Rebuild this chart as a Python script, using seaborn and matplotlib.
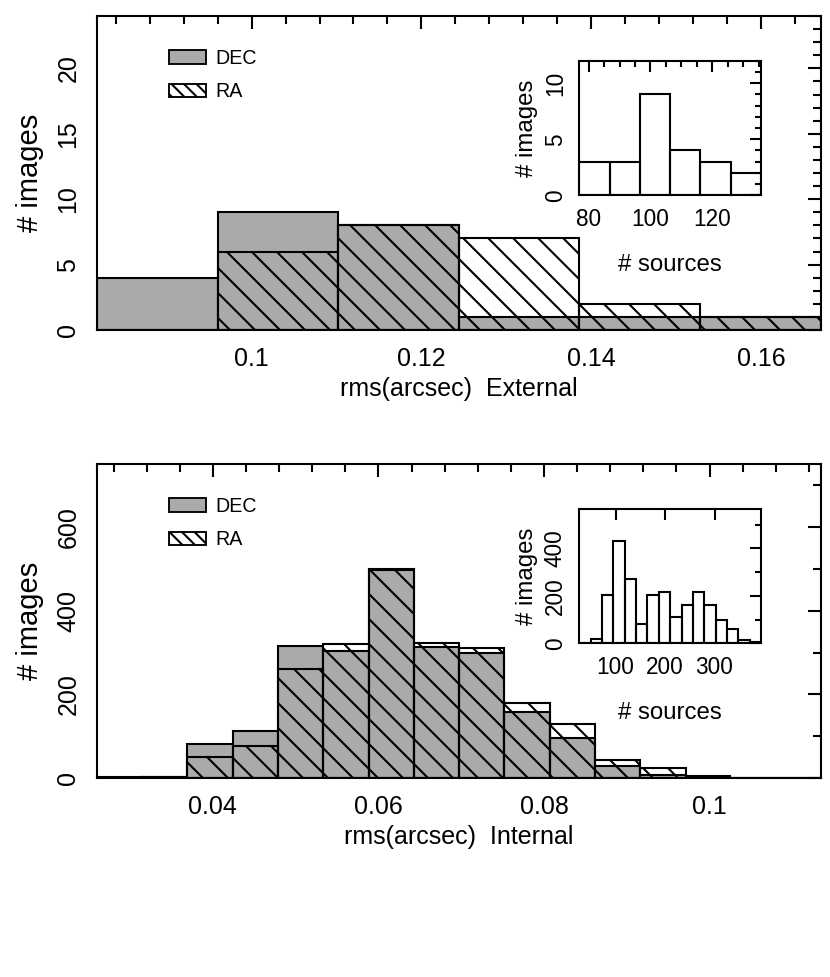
import numpy as np
import seaborn as sns
import matplotlib.pyplot as plt
import matplotlib.patches as mpatches
from matplotlib.ticker import MultipleLocator

# external rms histogram (6 bins)
ext_edges = [0.0818, 0.0960, 0.1102, 0.1244, 0.1386, 0.1528, 0.1670]
ext_dec = [4, 9, 8, 1, 1, 1]
ext_ra = [0, 6, 8, 7, 2, 1]

# sources per image, external inset
src_ext_edges = [77.0, 86.8, 96.6, 106.4, 116.2, 126.0, 135.8]
src_ext_counts = [3, 3, 9, 4, 3, 2]

# internal rms histogram (16 bins)
int_edges = [0.0260, 0.0315, 0.0369, 0.0424, 0.0479, 0.0533, 0.0588, 0.0643, 0.0697,
             0.0752, 0.0807, 0.0861, 0.0916, 0.0971, 0.1025, 0.1080, 0.1134]
int_dec = [2, 3, 81, 114, 316, 304, 498, 313, 299, 159, 95, 30, 8, 3, 1, 0]
int_ra = [1, 3, 50, 78, 261, 321, 500, 322, 310, 180, 130, 44, 24, 5, 1, 0]

# sources per image, internal inset
src_int_edges = [26.8, 49.8, 72.7, 95.7, 118.6, 141.6, 164.5, 187.5, 210.4, 233.4,
                 256.3, 279.3, 302.2, 325.2, 348.1, 371.1, 394.0]
src_int_counts = [3, 18, 205, 431, 272, 81, 202, 218, 112, 160, 216, 160, 97, 62, 15, 4]

# tick labels
ext_ticks = [0.1, 0.12, 0.14, 0.16]
ext_ticklabels = ['0.1', '0.12', '0.14', '0.16']
int_ticks = [0.04, 0.06, 0.08, 0.1]
int_ticklabels = ['0.04', '0.06', '0.08', '0.1']

sns.set_theme(style='white')
plt.rcParams['font.family'] = ['Liberation Sans', 'DejaVu Sans']
plt.rcParams['hatch.linewidth'] = 1.0
plt.rcParams['axes.linewidth'] = 1.0
plt.rcParams['axes.edgecolor'] = 'black'
for key in ['text.color', 'axes.labelcolor', 'xtick.color', 'ytick.color']:
    plt.rcParams[key] = 'black'

GRAY = '#aaaaaa'
DPI = 150


def centers(edges):
    e = np.asarray(edges)
    return (e[:-1] + e[1:]) / 2


def style_axes(ax, major, minor, big=True):
    ax.tick_params(which='both', direction='in', top=True, right=True,
                   colors='black', width=1.0)
    if big:
        ax.tick_params(which='major', length=6.2, labelsize=12, pad=8)
        ax.tick_params(which='minor', length=3.8)
    else:
        ax.tick_params(which='major', length=5.5, labelsize=10.8, pad=6)
        ax.tick_params(which='minor', length=3.0)
    ax.tick_params(axis='y', labelrotation=90)
    for lab in ax.get_yticklabels():
        lab.set_verticalalignment('center')
    if major[0] is not None:
        ax.xaxis.set_major_locator(MultipleLocator(major[0]))
    if minor[0] is not None:
        ax.xaxis.set_minor_locator(MultipleLocator(minor[0]))
    ax.yaxis.set_major_locator(MultipleLocator(major[1]))
    if minor[1] is not None:
        ax.yaxis.set_minor_locator(MultipleLocator(minor[1]))
    for s in ax.spines.values():
        s.set_linewidth(1.0)
        s.set_color('black')


def main_panel(ax, edges, dec, ra, ymax, ticks, ticklabels, xlabel, ystep, yminor):
    c = centers(edges)
    sns.histplot(x=c, weights=dec, bins=edges, ax=ax, color=GRAY, alpha=1,
                 edgecolor='black', linewidth=1.0)
    sns.histplot(x=c, weights=ra, bins=edges, ax=ax, fill=False, color='black',
                 linewidth=1.0, hatch='\\\\')
    ax.set_xlim(edges[0], edges[-1])
    ax.set_ylim(0, ymax)
    style_axes(ax, (None, ystep), (0.004, yminor))
    ax.set_xticks(ticks, labels=ticklabels)
    ax.set_xlabel(xlabel, fontsize=12, labelpad=3)
    ax.set_ylabel('# images', fontsize=14, labelpad=6)
    handles = [mpatches.Patch(facecolor=GRAY, edgecolor='black', linewidth=0.9, label='DEC'),
               mpatches.Patch(facecolor='none', edgecolor='black', linewidth=0.9,
                              hatch='\\\\\\\\', label='RA')]
    ax.legend(handles=handles, loc='upper left', bbox_to_anchor=(0.0995, 0.896),
              frameon=False, borderpad=0, handlelength=1.9, handleheight=0.7,
              handletextpad=0.45, labelspacing=0.75, fontsize=9.4, borderaxespad=0)


def inset_panel(ax, edges, counts, ymax, xmajor, xminor, ymajor, yminor):
    c = centers(edges)
    sns.histplot(x=c, weights=counts, bins=edges, ax=ax, fill=False, color='black',
                 linewidth=1.0)
    ax.set_xlim(edges[0], edges[-1])
    ax.set_ylim(0, ymax)
    ax.set_facecolor('white')
    style_axes(ax, (xmajor, ymajor), (xminor, yminor), big=False)
    ax.set_xlabel('# sources', fontsize=11.5, labelpad=11)
    ax.set_ylabel('# images', fontsize=11.5, labelpad=3)


fig = plt.figure(figsize=(830 / DPI, 977 / DPI), dpi=DPI)
ax1 = fig.add_axes([0.1169, 0.6622, 0.8717, 0.3214])
ax2 = fig.add_axes([0.1169, 0.2034, 0.8717, 0.3217])
in1 = fig.add_axes([0.698, 0.8001, 0.2189, 0.1378])
in2 = fig.add_axes([0.698, 0.3416, 0.2189, 0.1372])

main_panel(ax1, ext_edges, ext_dec, ext_ra, 24, ext_ticks, ext_ticklabels,
           'rms(arcsec)  External', 5, 1)
main_panel(ax2, int_edges, int_dec, int_ra, 750, int_ticks, int_ticklabels,
           'rms(arcsec)  Internal', 200, 100)

inset_panel(in1, src_ext_edges, src_ext_counts, 12, 20, 5, 5, 1)
inset_panel(in2, src_int_edges, src_int_counts, 565, 100, None, 200, 100)

fig.savefig('out.png', dpi=DPI)
